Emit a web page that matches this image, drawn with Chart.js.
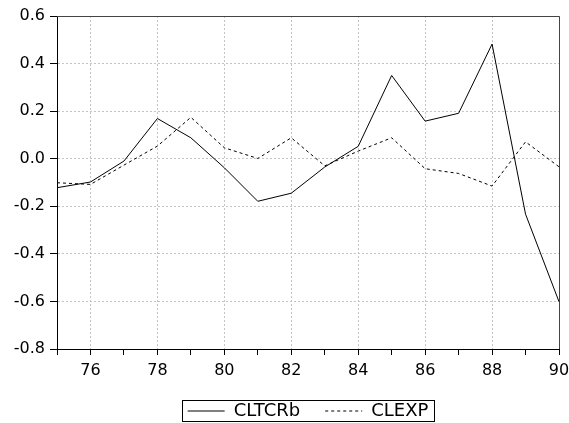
<!DOCTYPE html>
<html>
<head>
<meta charset="utf-8">
<script src="https://cdn.jsdelivr.net/npm/chart.js@4"></script>
<style>
  html, body { margin: 0; padding: 0; background: #fff; }
  #wrap { width: 569px; height: 423px; }
</style>
</head>
<body>
<div id="wrap"><canvas id="chart"></canvas></div>
<script>
// data
const years = [75, 76, 77, 78, 79, 80, 81, 82, 83, 84, 85, 86, 87, 88, 89, 90];
const cltcrb = [-0.122, -0.098, -0.010, 0.169, 0.088, -0.038, -0.179, -0.145, -0.035, 0.052, 0.350, 0.158, 0.191, 0.482, -0.233, -0.601];
const clexp = [-0.101, -0.108, -0.027, 0.053, 0.174, 0.046, 0.001, 0.088, -0.030, 0.032, 0.088, -0.042, -0.062, -0.115, 0.071, -0.034];
const yTicks = [-0.8, -0.6, -0.4, -0.2, 0.0, 0.2, 0.4, 0.6];

Chart.defaults.font.family = "'DejaVu Sans', sans-serif";
Chart.defaults.font.size = 16;
Chart.defaults.color = "#000";

// frame on top/right of plot and box around the legend
const framePlugin = {
  id: "frame",
  afterDraw(chart) {
    const ctx = chart.ctx;
    const a = chart.chartArea;
    ctx.save();
    ctx.strokeStyle = "#444";
    ctx.lineWidth = 1;
    ctx.beginPath();
    ctx.moveTo(a.left, a.top + 0.5);
    ctx.lineTo(a.right + 0.5, a.top + 0.5);
    ctx.lineTo(a.right + 0.5, a.bottom);
    ctx.stroke();

    const boxes = chart.legend.legendHitBoxes;
    if (boxes && boxes.length) {
      const first = boxes[0];
      const last = boxes[boxes.length - 1];
      const l = first.left - 6;
      const r = last.left + last.width + 5;
      const t = first.top - 2;
      const b = first.top + first.height + 2;
      ctx.strokeStyle = "#000";
      ctx.strokeRect(Math.round(l) + 0.5, Math.round(t) + 0.5, Math.round(r - l), Math.round(b - t) - 1);
    }
    ctx.restore();
  }
};

const ctx = document.getElementById("chart");
new Chart(ctx, {
  type: "line",
  data: {
    datasets: [
      {
        label: "CLTCRb",
        data: years.map((x, i) => ({ x: x, y: cltcrb[i] })),
        borderColor: "#000",
        borderWidth: 1,
        pointRadius: 0,
        tension: 0,
      },
      {
        label: "CLEXP",
        data: years.map((x, i) => ({ x: x, y: clexp[i] })),
        borderColor: "#000",
        borderWidth: 1,
        borderDash: [3, 3],
        pointRadius: 0,
        tension: 0,
      },
    ],
  },
  options: {
    responsive: true,
    maintainAspectRatio: false,
    animation: false,
    events: [],
    layout: { padding: { left: 0, right: 10, top: 16, bottom: -7 } },
    scales: {
      x: {
        type: "linear",
        min: 75,
        max: 90,
        afterFit: (s) => {
          s.height = 28;
          s.paddingRight = 0;
          s.paddingLeft = 0;
        },
        ticks: {
          stepSize: 1,
          autoSkip: false,
          maxRotation: 0,
          padding: 6,
          callback: (v) => (v % 2 === 0 ? String(v) : ""),
        },
        grid: {
          color: (c) => (c.tick && c.tick.value % 2 === 0 ? "#c4c4c4" : "transparent"),
          tickColor: "#000",
          tickLength: 6,
          tickBorderDash: [],
        },
        border: { color: "#000", width: 1, dash: [2, 2] },
      },
      y: {
        min: -0.8,
        max: 0.6,
        afterFit: (s) => { s.width = 57; },
        afterBuildTicks: (s) => { s.ticks = yTicks.map((v) => ({ value: v })); },
        ticks: {
          padding: 5,
          callback: (v) => v.toFixed(1),
        },
        grid: {
          color: "#c4c4c4",
          tickColor: "#000",
          tickLength: 7,
          tickBorderDash: [],
        },
        border: { color: "#000", width: 1, dash: [2, 2] },
      },
    },
    plugins: {
      legend: {
        position: "bottom",
        fullSize: false,
        labels: {
          usePointStyle: true,
          pointStyle: "line",
          pointStyleWidth: 37,
          padding: 25,
          font: { size: 18 },
          generateLabels: (chart) => {
            const items = Chart.defaults.plugins.legend.labels.generateLabels(chart);
            items.forEach((it) => {
              const ds = chart.data.datasets[it.datasetIndex];
              it.lineDash = ds.borderDash || [];
              it.lineWidth = 1;
              it.strokeStyle = "#000";
            });
            return items;
          },
        },
      },
      tooltip: { enabled: false },
    },
  },
  plugins: [framePlugin],
});
</script>
</body>
</html>
